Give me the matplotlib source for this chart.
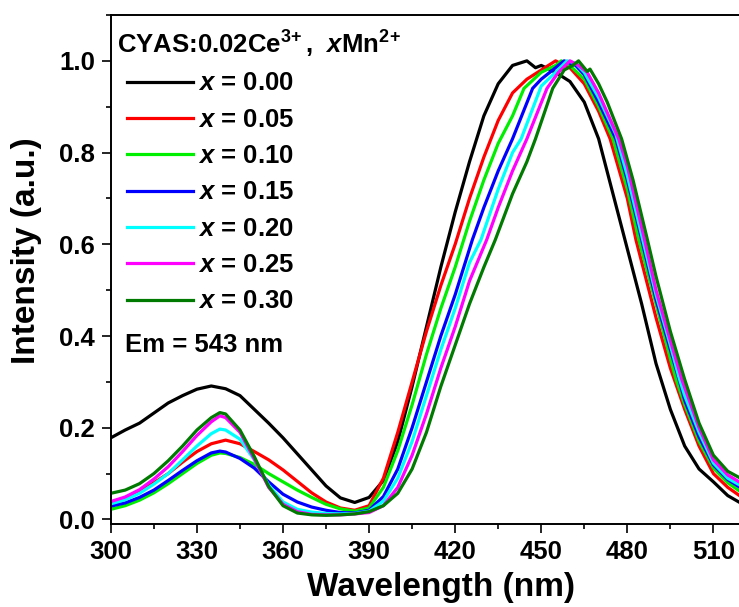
import matplotlib
matplotlib.use('Agg')
import matplotlib.pyplot as plt
from matplotlib.ticker import MultipleLocator

plt.rcParams['font.family'] = 'Liberation Sans'
plt.rcParams['font.weight'] = 'bold'
plt.rcParams['mathtext.fontset'] = 'custom'
plt.rcParams['mathtext.rm'] = 'Liberation Sans:bold'
plt.rcParams['mathtext.bf'] = 'Liberation Sans:bold'
plt.rcParams['mathtext.it'] = 'Liberation Sans:bold:italic'
plt.rcParams['mathtext.default'] = 'bf'

# excitation spectra, Em = 543 nm
wl_000 = [300, 305, 310, 315, 320, 325, 330, 335, 340, 345, 350, 355, 360, 365, 370, 375, 380, 385, 390,
          395, 400, 405, 410, 415, 420, 425, 430, 435, 440, 445, 448, 450, 455, 460, 465, 470, 475, 480,
          485, 490, 495, 500, 505, 510, 515, 520, 525, 530]
int_000 = [0.178, 0.195, 0.21, 0.232, 0.254, 0.27, 0.284, 0.291, 0.285, 0.27, 0.24, 0.21, 0.178, 0.143,
           0.108, 0.073, 0.047, 0.037, 0.048, 0.085, 0.17, 0.29, 0.42, 0.55, 0.67, 0.78, 0.88, 0.95, 0.99,
           1.0, 0.985, 0.99, 0.975, 0.955, 0.91, 0.83, 0.71, 0.59, 0.47, 0.34, 0.24, 0.16, 0.11, 0.082,
           0.052, 0.034, 0.024, 0.018]

wl_005 = [300, 305, 310, 315, 320, 325, 330, 335, 340, 345, 350, 355, 360, 365, 370, 375, 380, 385, 390,
          395, 400, 405, 410, 415, 420, 425, 430, 435, 440, 445, 450, 455, 458, 460, 465, 470, 474, 480,
          483, 490, 495, 500, 505, 510, 515, 520, 525, 530]
int_005 = [0.032, 0.045, 0.06, 0.08, 0.1, 0.125, 0.148, 0.165, 0.173, 0.165, 0.148, 0.13, 0.108, 0.083,
           0.058, 0.038, 0.025, 0.02, 0.03, 0.09, 0.19, 0.3, 0.41, 0.51, 0.6, 0.7, 0.79, 0.87, 0.93, 0.96,
           0.98, 1.0, 0.99, 0.985, 0.95, 0.89, 0.83, 0.7, 0.61, 0.44, 0.33, 0.24, 0.16, 0.1, 0.07, 0.048,
           0.034, 0.026]

wl_010 = [300, 305, 310, 315, 320, 325, 330, 335, 338, 340, 345, 350, 355, 360, 365, 370, 375, 380, 385,
          390, 395, 400, 405, 410, 415, 420, 423, 425, 430, 435, 440, 444, 450, 455, 457, 460, 465, 470,
          475, 480, 484, 490, 495, 497, 500, 505, 510, 515, 520, 525, 530]
int_010 = [0.022, 0.03, 0.042, 0.058, 0.078, 0.1, 0.122, 0.14, 0.145, 0.144, 0.135, 0.12, 0.1, 0.082,
           0.064, 0.048, 0.033, 0.023, 0.018, 0.025, 0.07, 0.15, 0.25, 0.36, 0.46, 0.55, 0.61, 0.65, 0.74,
           0.82, 0.88, 0.94, 0.975, 0.99, 1.0, 0.99, 0.96, 0.9, 0.83, 0.72, 0.61, 0.47, 0.35, 0.305, 0.25,
           0.17, 0.112, 0.08, 0.058, 0.043, 0.033]

wl_015 = [300, 305, 310, 315, 320, 325, 330, 335, 338, 340, 345, 350, 355, 360, 365, 370, 375, 380, 385,
          390, 395, 400, 405, 410, 415, 420, 426, 430, 435, 440, 447, 450, 455, 458, 462, 465, 470, 476,
          480, 485, 490, 495, 498, 500, 505, 510, 515, 520, 525, 530]
int_015 = [0.029, 0.036, 0.048, 0.064, 0.085, 0.107, 0.128, 0.145, 0.149, 0.147, 0.133, 0.112, 0.082,
           0.055, 0.038, 0.027, 0.02, 0.015, 0.014, 0.02, 0.05, 0.11, 0.2, 0.3, 0.4, 0.49, 0.61, 0.68, 0.76,
           0.83, 0.94, 0.96, 0.985, 1.0, 0.99, 0.97, 0.91, 0.83, 0.74, 0.61, 0.48, 0.37, 0.305, 0.26,
           0.18, 0.119, 0.087, 0.067, 0.05, 0.04]

wl_020 = [300, 305, 310, 315, 320, 325, 330, 335, 338, 340, 345, 350, 355, 360, 365, 370, 375, 380, 385,
          390, 395, 400, 405, 410, 415, 420, 425, 429, 435, 440, 443, 450, 455, 459, 462, 465, 470, 476,
          480, 485, 490, 495, 498, 500, 505, 510, 515, 520, 525, 530]
int_020 = [0.034, 0.043, 0.057, 0.077, 0.1, 0.13, 0.16, 0.187, 0.197, 0.195, 0.175, 0.13, 0.075, 0.038,
           0.022, 0.016, 0.013, 0.012, 0.013, 0.018, 0.04, 0.09, 0.17, 0.27, 0.37, 0.46, 0.56, 0.61, 0.72,
           0.8, 0.83, 0.945, 0.975, 1.0, 0.995, 0.975, 0.92, 0.84, 0.75, 0.62, 0.49, 0.38, 0.31, 0.27,
           0.19, 0.123, 0.09, 0.072, 0.055, 0.044]

wl_025 = [300, 305, 310, 315, 320, 325, 330, 335, 338, 340, 345, 350, 355, 360, 365, 370, 375, 380, 385,
          390, 395, 400, 405, 410, 415, 420, 425, 431, 435, 440, 445, 452, 456, 460, 463, 466, 470, 477,
          480, 486, 490, 495, 499, 505, 510, 515, 520, 525, 530]
int_025 = [0.039, 0.049, 0.065, 0.088, 0.115, 0.148, 0.183, 0.213, 0.226, 0.222, 0.19, 0.132, 0.07,
           0.033, 0.017, 0.011, 0.01, 0.01, 0.012, 0.015, 0.03, 0.07, 0.14, 0.23, 0.33, 0.42, 0.52, 0.61,
           0.68, 0.76, 0.83, 0.94, 0.975, 1.0, 0.99, 0.975, 0.93, 0.83, 0.77, 0.61, 0.5, 0.39, 0.305, 0.2,
           0.13, 0.097, 0.078, 0.06, 0.048]

wl_030 = [300, 305, 310, 315, 320, 325, 330, 335, 338, 340, 345, 350, 355, 360, 365, 370, 375, 380, 385,
          390, 395, 400, 405, 410, 415, 420, 425, 430, 434, 440, 445, 448, 454, 458, 461, 463, 466, 467,
          470, 473, 478, 482, 487, 490, 495, 500, 505, 510, 515, 520, 525, 530]
int_030 = [0.057, 0.064, 0.078, 0.1, 0.128, 0.16, 0.195, 0.222, 0.233, 0.23, 0.195, 0.137, 0.072, 0.03,
           0.014, 0.01, 0.009, 0.01, 0.012, 0.017, 0.03, 0.057, 0.11, 0.19, 0.29, 0.38, 0.47, 0.55, 0.61,
           0.71, 0.78, 0.83, 0.94, 0.98, 0.99, 1.0, 0.977, 0.982, 0.95, 0.91, 0.83, 0.74, 0.61, 0.53,
           0.41, 0.305, 0.21, 0.14, 0.105, 0.088, 0.07, 0.056]

series_wl = [wl_000, wl_005, wl_010, wl_015, wl_020, wl_025, wl_030]
series_int = [int_000, int_005, int_010, int_015, int_020, int_025, int_030]
x_values = ['0.00', '0.05', '0.10', '0.15', '0.20', '0.25', '0.30']
colors = ['black', '#ff0000', '#00ee00', '#0000ff', '#00ffff', '#ff00ff', '#007a00']

fig = plt.figure(figsize=(7.39, 6.07), dpi=100)
ax = fig.add_axes([0.150, 0.1367, 0.893, 0.8386])

for wl, inten, xv, c in zip(series_wl, series_int, x_values, colors):
    ax.plot(wl, inten, color=c, lw=2.3, label=r'$\mathit{x}$ = ' + xv)

ax.set_xlim(300, 530)
ax.set_ylim(-0.01, 1.10)
ax.xaxis.set_major_locator(MultipleLocator(30))
ax.xaxis.set_minor_locator(MultipleLocator(15))
ax.yaxis.set_major_locator(MultipleLocator(0.2))
ax.yaxis.set_minor_locator(MultipleLocator(0.1))
ax.yaxis.set_major_formatter(lambda v, p: f'{v:.1f}')
ax.tick_params(which='both', direction='out', width=1.2, labelsize=18.5, top=False, right=False)
ax.tick_params(which='major', length=6.5, pad=5)
ax.tick_params(which='minor', length=3.5)
for s in ax.spines.values():
    s.set_linewidth(1.4)

ax.set_xlabel('Wavelength (nm)', fontsize=24, fontweight='bold')
ax.set_ylabel('Intensity (a.u.)', fontsize=24, fontweight='bold')
ax.xaxis.set_label_coords(0.5, -0.095)
ax.yaxis.set_label_coords(-0.105, 0.536)

ax.text(0.009, 0.943, r'CYAS:0.02Ce$^{3\!+}$,  $\mathit{x}$Mn$^{2\!+}$', transform=ax.transAxes,
        fontsize=18.5, fontweight='bold', va='center', ha='left')
ax.text(0.021, 0.352, 'Em = 543 nm', transform=ax.transAxes,
        fontsize=18.5, fontweight='bold', va='center', ha='left')

ax.legend(loc='upper left', bbox_to_anchor=(0.024, 0.889), frameon=False, borderaxespad=0,
          borderpad=0, handlelength=2.57, handletextpad=0.2, labelspacing=0.48,
          prop={'size': 18.5, 'weight': 'bold'})

fig.savefig('out.png', dpi=100)
